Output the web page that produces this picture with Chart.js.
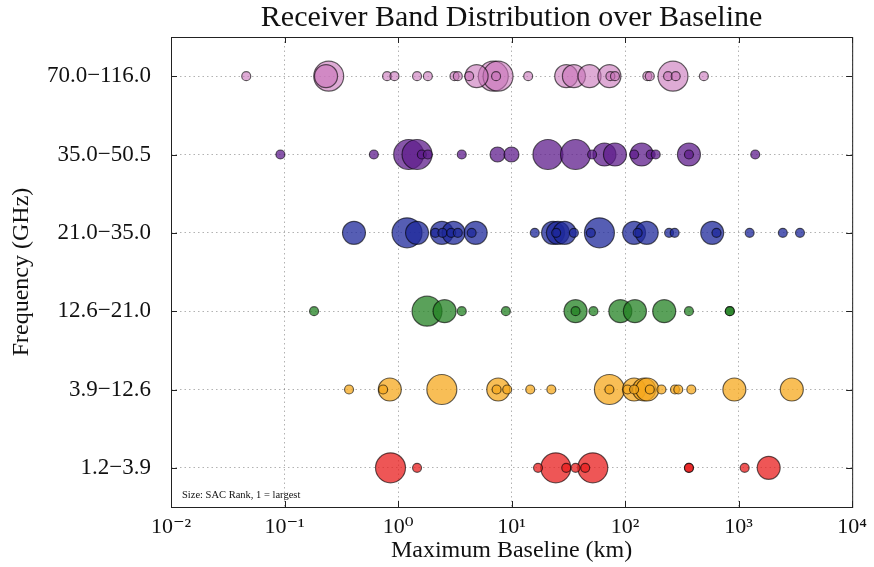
<!DOCTYPE html>
<html>
<head>
<meta charset="utf-8">
<script src="https://cdn.jsdelivr.net/npm/chart.js"></script>
<style>
  html, body { margin: 0; padding: 0; background: #fff; }
  #chartCanvas { display: block; }
</style>
</head>
<body>
<canvas id="chartCanvas" width="874" height="567"></canvas>
<script>
// Frequenzbänder (unten nach oben)
const bandLabels = ['1.2\u22123.9', '3.9\u221212.6', '12.6\u221221.0', '21.0\u221235.0', '35.0\u221250.5', '70.0\u2212116.0'];

// Maximale Baseline (km) und SAC-Rang pro Band
const band1Baseline = [0.858, 1.47, 17.1, 24.5, 30.3, 36.6, 44.5, 51.9, 365, 365, 1130, 1840];
const band1Rank     = [1, 4, 4, 1, 4, 4, 4, 1, 4, 4, 4, 2];

const band2Baseline = [0.370, 0.739, 0.846, 2.43, 7.38, 7.63, 9.15, 14.6, 22.4, 72.7, 72.7, 105, 120, 120, 147, 157, 165, 209, 275, 294, 383, 917, 2940];
const band2Rank     = [4, 4, 2, 1, 4, 2, 4, 4, 4, 1, 4, 4, 2, 4, 2, 2, 4, 4, 4, 4, 4, 2, 2];

const band3Baseline = [0.182, 1.80, 2.57, 3.64, 8.91, 36.6, 36.6, 52.6, 90.8, 122, 221, 365, 836, 836];
const band3Rank     = [4, 1, 2, 4, 4, 2, 4, 4, 2, 2, 2, 4, 4, 4];

const band4Baseline = [0.409, 1.20, 1.47, 2.13, 2.43, 2.46, 2.94, 3.08, 3.36, 4.45, 4.83, 16.0, 23.2, 24.7, 25.6, 29.3, 35.4, 49.9, 59.4, 120, 129, 155, 244, 273, 585, 638, 1250, 2450, 3470];
const band4Rank     = [2, 1, 2, 4, 2, 4, 4, 2, 4, 4, 2, 4, 2, 4, 2, 2, 4, 4, 1, 2, 4, 2, 4, 4, 2, 4, 4, 4, 4];

const band5Baseline = [0.092, 0.612, 1.24, 1.47, 1.62, 1.83, 3.64, 7.52, 9.98, 20.9, 36.6, 51.2, 65.8, 81.4, 120, 140, 168, 186, 365, 365, 1400];
const band5Rank     = [4, 4, 1, 1, 4, 4, 4, 3, 3, 1, 1, 4, 2, 2, 4, 2, 4, 4, 2, 4, 4];

const band6Baseline = [0.046, 0.232, 0.245, 0.80, 0.93, 1.47, 1.83, 3.14, 3.36, 4.23, 4.92, 6.9, 7.3, 7.6, 14.0, 30.3, 35.4, 48.6, 72.7, 74.2, 81.4, 157, 165, 239, 264, 279, 494];
const band6Rank     = [4, 2, 1, 4, 4, 4, 4, 4, 4, 4, 2, 1, 4, 1, 4, 2, 2, 2, 2, 4, 4, 4, 4, 4, 1, 4, 4];

const xTickExponents = [-2, -1, 0, 1, 2, 3, 4];

const chartTitle = 'Receiver Band Distribution over Baseline';

const bandColors = [
    'rgba(232, 30, 30, 0.75)',
    'rgba(245, 168, 30, 0.75)',
    'rgba(35, 130, 35, 0.75)',
    'rgba(30, 40, 155, 0.75)',
    'rgba(95, 30, 140, 0.75)',
    'rgba(200, 115, 185, 0.6)'
];

// Rang -> Radius in Pixel (1 = größter)
function rankRadius(rank) {
    return { 1: 15, 2: 11.5, 3: 7.5, 4: 4.5 }[rank];
}

function buildPoints(baselines, ranks, bandIndex) {
    const pts = baselines.map((b, i) => ({ x: b, y: bandIndex, r: rankRadius(ranks[i]) }));
    // große Kreise zuerst, damit kleine obenauf liegen
    return pts.sort((a, b) => b.r - a.r);
}

const allBands = [
    [band1Baseline, band1Rank],
    [band2Baseline, band2Rank],
    [band3Baseline, band3Rank],
    [band4Baseline, band4Rank],
    [band5Baseline, band5Rank],
    [band6Baseline, band6Rank]
];

const serif = '"Liberation Serif", "DejaVu Serif", serif';
const superDigits = { '-': '\u207B', '0': '\u2070', '1': '\u00B9', '2': '\u00B2', '3': '\u00B3', '4': '\u2074' };

// Titel über der Plotfläche, Rahmen, Tickmarken und Hinweistext
const framePlugin = {
    id: 'frame',
    afterDraw(chart) {
        const { ctx, chartArea: a, scales } = chart;
        ctx.save();
        ctx.strokeStyle = '#222';
        ctx.lineWidth = 1;
        ctx.beginPath();
        xTickExponents.forEach(e => {
            const px = Math.round(scales.x.getPixelForValue(Math.pow(10, e))) + 0.5;
            ctx.moveTo(px, a.bottom); ctx.lineTo(px, a.bottom - 6);
            ctx.moveTo(px, a.top); ctx.lineTo(px, a.top + 6);
        });
        bandLabels.forEach((_, i) => {
            const py = Math.round(scales.y.getPixelForValue(i)) + 0.5;
            ctx.moveTo(a.left, py); ctx.lineTo(a.left + 6, py);
            ctx.moveTo(a.right, py); ctx.lineTo(a.right - 6, py);
        });
        ctx.stroke();
        ctx.strokeRect(a.left + 0.5, a.top + 0.5, a.right - a.left, a.bottom - a.top);

        ctx.fillStyle = '#111';
        ctx.textAlign = 'center';
        ctx.textBaseline = 'middle';
        ctx.font = '30px ' + serif;
        ctx.fillText(chartTitle, (a.left + a.right) / 2, 18);

        ctx.font = '10.5px ' + serif;
        ctx.textBaseline = 'alphabetic';
        ctx.textAlign = 'left';
        ctx.fillText('Size: SAC Rank, 1 = largest', a.left + 11, a.bottom - 9);
        ctx.restore();
    }
};

new Chart(document.getElementById('chartCanvas').getContext('2d'), {
    type: 'bubble',
    data: {
        datasets: allBands.map(([b, r], i) => ({
            label: bandLabels[i],
            data: buildPoints(b, r, i),
            backgroundColor: bandColors[i],
            borderColor: 'rgba(0, 0, 0, 0.6)',
            borderWidth: 1.2
        }))
    },
    options: {
        responsive: false,
        animation: false,
        layout: { padding: { left: 0, right: 18, top: 37, bottom: 0 } },
        plugins: {
            legend: { display: false },
            tooltip: { enabled: false },
            title: { display: false }
        },
        scales: {
            x: {
                type: 'logarithmic',
                min: 0.01,
                max: 10000,
                afterBuildTicks(scale) {
                    scale.ticks = xTickExponents.map(e => ({ value: Math.pow(10, e) }));
                },
                afterFit(scale) { scale.height = 60; },
                ticks: {
                    color: '#111',
                    font: { family: serif, size: 22 },
                    padding: 7,
                    maxRotation: 0,
                    autoSkip: false,
                    callback(value) {
                        const e = Math.round(Math.log10(value));
                        return '10' + String(e).split('').map(c => superDigits[c]).join('');
                    }
                },
                grid: { color: 'rgba(0, 0, 0, 0.3)', drawTicks: false },
                border: { display: false, dash: [1.5, 3] },
                title: {
                    display: true,
                    text: 'Maximum Baseline (km)',
                    color: '#111',
                    font: { family: serif, size: 24, lineHeight: 1.2 },
                    padding: { top: 0, bottom: 2 }
                }
            },
            y: {
                type: 'linear',
                min: -0.5,
                max: 5.5,
                afterBuildTicks(scale) {
                    scale.ticks = bandLabels.map((_, i) => ({ value: i }));
                },
                afterFit(scale) { scale.width = 171; },
                ticks: {
                    color: '#111',
                    font: { family: serif, size: 23 },
                    padding: 20,
                    autoSkip: false,
                    callback(value) { return bandLabels[value]; }
                },
                grid: { color: 'rgba(0, 0, 0, 0.3)', drawTicks: false },
                border: { display: false, dash: [1.5, 3] },
                title: {
                    display: true,
                    text: 'Frequency (GHz)',
                    color: '#111',
                    font: { family: serif, size: 24, lineHeight: 1.2 },
                    padding: { top: 7, bottom: 0 }
                }
            }
        }
    },
    plugins: [framePlugin]
});
</script>
</body>
</html>
